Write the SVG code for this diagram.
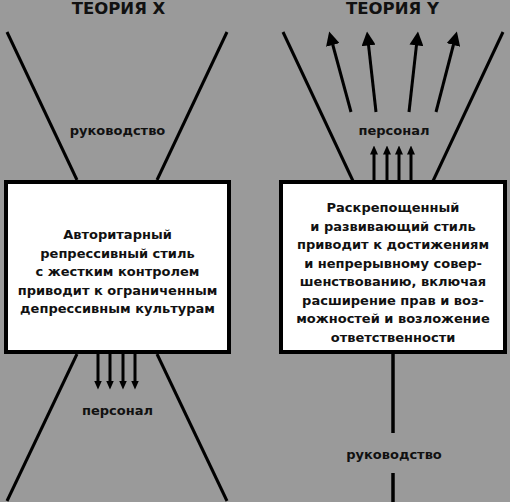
<svg xmlns="http://www.w3.org/2000/svg" width="510" height="502" viewBox="0 0 510 502">
<style>
.t{font-family:"DejaVu Sans","Liberation Sans",sans-serif;font-weight:bold;fill:#111;text-anchor:middle}
.title{font-size:16.5px}
.body{font-size:13px}
.lbl{font-size:13px}
.ln{stroke:#000;stroke-width:3;fill:none}
.box{fill:#fff;stroke:#000;stroke-width:4}
</style>
<defs>
<marker id="sm" markerUnits="userSpaceOnUse" markerWidth="9" markerHeight="8" viewBox="0 0 9 8" refX="0.5" refY="4" orient="auto"><path d="M0,0 L9,4 L0,8 z" fill="#000"/></marker>
<marker id="lg" markerUnits="userSpaceOnUse" markerWidth="14" markerHeight="14" viewBox="0 0 14 14" refX="0.5" refY="7" orient="auto"><path d="M0,0 L14,7 L0,14 z" fill="#000"/></marker>
</defs>
<rect width="510" height="502" fill="#9a9a9a"/>
<g id="connectors">
<line class="ln" x1="7" y1="32" x2="77" y2="180"/>
<line class="ln" x1="227" y1="32" x2="157" y2="180"/>
<line class="ln" x1="77" y1="354" x2="7" y2="501"/>
<line class="ln" x1="157" y1="354" x2="227" y2="501"/>
<line class="ln" x1="98" y1="354" x2="98" y2="381" marker-end="url(#sm)"/>
<line class="ln" x1="110" y1="354" x2="110" y2="381" marker-end="url(#sm)"/>
<line class="ln" x1="123" y1="354" x2="123" y2="381" marker-end="url(#sm)"/>
<line class="ln" x1="135" y1="354" x2="135" y2="381" marker-end="url(#sm)"/>
<line class="ln" x1="283" y1="32" x2="353" y2="181"/>
<line class="ln" x1="503" y1="32" x2="433" y2="181"/>
<line class="ln" x1="351" y1="112" x2="332.7" y2="44.5" marker-end="url(#lg)"/>
<line class="ln" x1="376" y1="112" x2="368.5" y2="44.9" marker-end="url(#lg)"/>
<line class="ln" x1="409" y1="112" x2="416.5" y2="44.9" marker-end="url(#lg)"/>
<line class="ln" x1="436" y1="112" x2="453.5" y2="44.5" marker-end="url(#lg)"/>
<line class="ln" x1="374" y1="180" x2="374" y2="154" marker-end="url(#sm)"/>
<line class="ln" x1="387" y1="180" x2="387" y2="154" marker-end="url(#sm)"/>
<line class="ln" x1="399" y1="180" x2="399" y2="154" marker-end="url(#sm)"/>
<line class="ln" x1="411" y1="180" x2="411" y2="154" marker-end="url(#sm)"/>
<line class="ln" style="stroke-width:3.5" x1="393" y1="354" x2="393" y2="433"/>
<line class="ln" style="stroke-width:3.5" x1="393" y1="473" x2="393" y2="502"/>
</g>
<g id="theory-x">
<text class="t title" x="118.5" y="14">ТЕОРИЯ X</text>
<text class="t lbl" x="117.5" y="135">руководство</text>
<text class="t lbl" x="117.5" y="415">персонал</text>
</g>
<g id="box-x">
<rect class="box" x="6" y="182" width="223" height="170"/>
<text class="t body" x="117.5" y="239">Авторитарный</text>
<text class="t body" x="117.5" y="257.5">репрессивный стиль</text>
<text class="t body" x="117.5" y="276">с жестким контролем</text>
<text class="t body" x="117.5" y="294.5">приводит к ограниченным</text>
<text class="t body" x="117.5" y="313">депрессивным культурам</text>
</g>
<g id="theory-y">
<text class="t title" x="392.5" y="14">ТЕОРИЯ Y</text>
<text class="t lbl" x="394" y="135">персонал</text>
<text class="t lbl" x="394" y="459">руководство</text>
</g>
<g id="box-y">
<rect class="box" x="281" y="182" width="224" height="170"/>
<text class="t body" x="393" y="212">Раскрепощенный</text>
<text class="t body" x="393" y="230.5">и развивающий стиль</text>
<text class="t body" x="393" y="249">приводит к достижениям</text>
<text class="t body" x="393" y="267.5">и непрерывному совер-</text>
<text class="t body" x="393" y="286">шенствованию, включая</text>
<text class="t body" x="393" y="304.5">расширение прав и воз-</text>
<text class="t body" x="393" y="323">можностей и возложение</text>
<text class="t body" x="393" y="341.5">ответственности</text>
</g>
</svg>
